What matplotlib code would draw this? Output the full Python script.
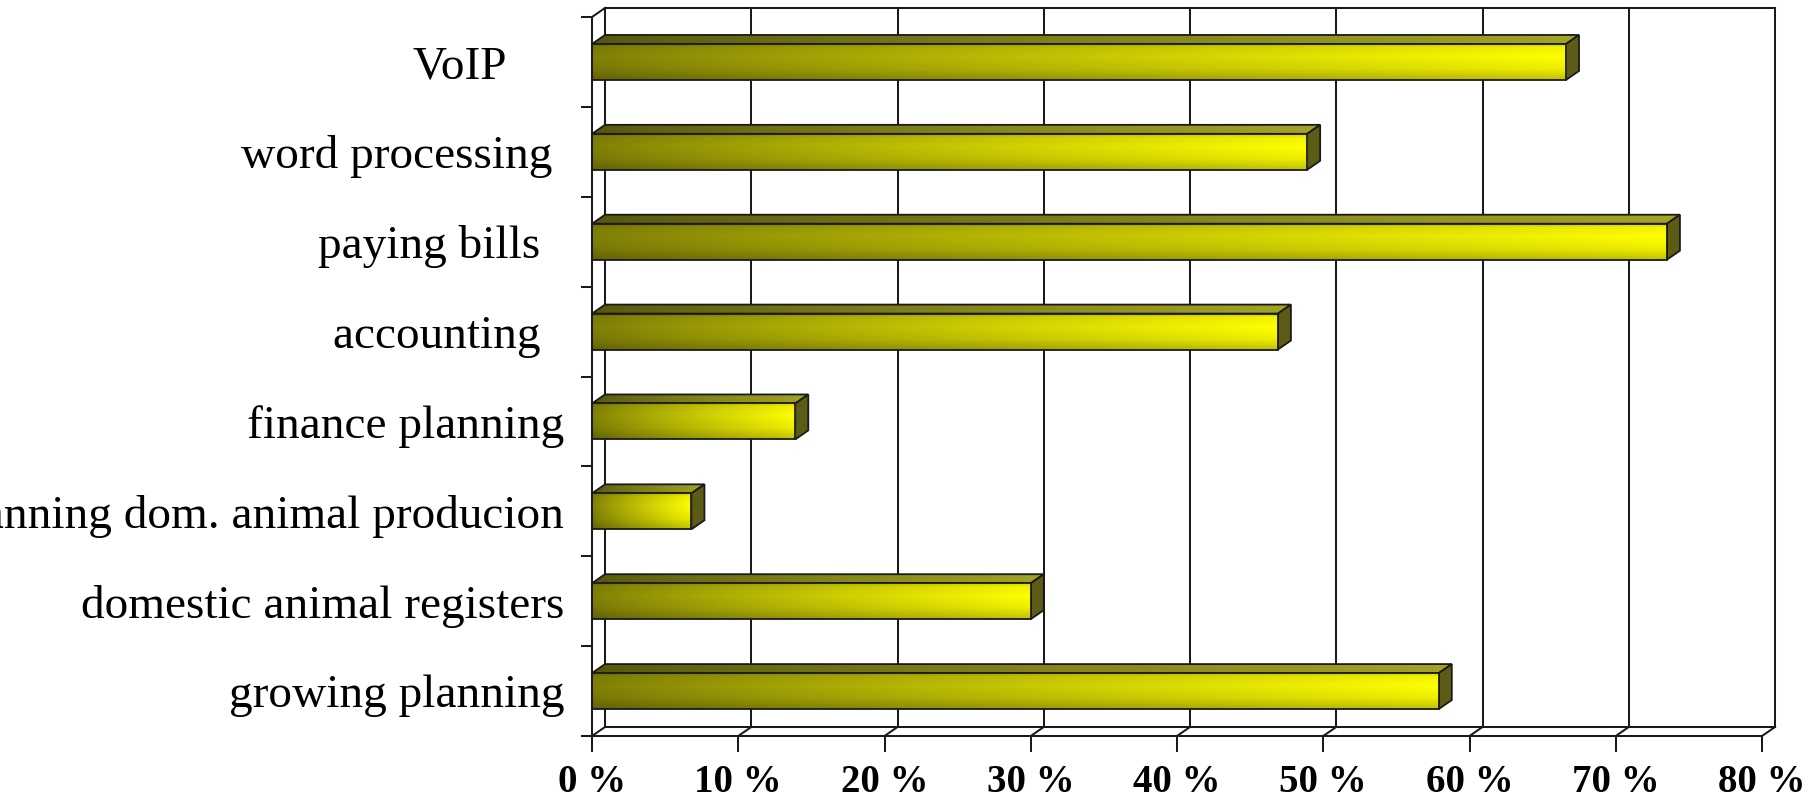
import numpy as np
import matplotlib
matplotlib.use("Agg")
import matplotlib.pyplot as plt
from matplotlib.patches import Polygon

# ---------------- data ----------------
categories = [
    "growing planning",
    "domestic animal registers",
    "planning dom. animal producion",
    "finance planning",
    "accounting  ",
    "paying bills  ",
    "word processing ",
    "VoIP     ",
]
values = [57.9, 30.0, 6.8, 13.9, 46.9, 73.5, 48.9, 66.6]
x_ticks = [0, 10, 20, 30, 40, 50, 60, 70, 80]
x_tick_labels = ["0 %", "10 %", "20 %", "30 %", "40 %", "50 %", "60 %", "70 %", "80 %"]

# ---------------- layout ----------------
W, H = 1811, 808
fig = plt.figure(figsize=(W / 100, H / 100), dpi=100)
fig.patch.set_facecolor("white")
L, R, B, T = 592, 1762, 736, 17  # front plane in pixels
ax = fig.add_axes([L / W, (H - B) / H, (R - L) / W, (B - T) / H])
ax.set_facecolor("none")

XMIN, XMAX = 0, 80
YMIN, YMAX = -0.5, len(categories) - 0.5
DX = 13 / (R - L) * (XMAX - XMIN)   # depth offset (data units)
DY = 9 / (B - T) * (YMAX - YMIN)
LC = "#1a1a1a"
LW = 1.45

# back wall, floor, gridlines
for x in x_ticks:
    ax.plot([x + DX, x + DX], [YMIN + DY, YMAX + DY], color=LC, lw=LW, clip_on=False, zorder=1)
    ax.plot([x, x + DX], [YMIN, YMIN + DY], color=LC, lw=LW, clip_on=False, zorder=1)
ax.plot([XMIN + DX, XMAX + DX], [YMAX + DY, YMAX + DY], color=LC, lw=LW, clip_on=False, zorder=1)
ax.plot([XMIN + DX, XMAX + DX], [YMIN + DY, YMIN + DY], color=LC, lw=LW, clip_on=False, zorder=1)
ax.plot([XMIN, XMIN + DX], [YMAX, YMAX + DY], color=LC, lw=LW, clip_on=False, zorder=1)

# ---------------- bars ----------------
h = 0.2
nx, ny = 300, 40
t = np.linspace(0, 1, nx)
dark = np.array([0.50, 0.50, 0.03])
bright = np.array([1.0, 1.0, 0.0])
base = dark[None, :] + (bright - dark)[None, :] * (t ** 0.85)[:, None]
s = np.linspace(0, 1, ny)  # 0 = top, 1 = bottom
shade = np.interp(s, [0, 0.08, 0.35, 0.7, 1.0], [0.82, 0.95, 1.0, 0.93, 0.76])
front_img = np.clip(shade[:, None, None] * base[None, :, :], 0, 1)

top_dark = np.array([0.34, 0.34, 0.05])
top_bright = np.array([0.64, 0.64, 0.14])
top_base = top_dark[None, :] + (top_bright - top_dark)[None, :] * (t ** 0.8)[:, None]
top_img = np.repeat(top_base[None, :, :], 6, axis=0)

for i, v in enumerate(values):
    # top face
    top_poly = Polygon([(0, i + h), (v, i + h), (v + DX, i + h + DY), (DX, i + h + DY)],
                       closed=True, facecolor="none", edgecolor=LC, lw=1.3, zorder=4, clip_on=False)
    ax.add_patch(top_poly)
    im = ax.imshow(top_img, extent=(0, v + DX, i + h, i + h + DY), aspect="auto",
                   origin="upper", zorder=3, interpolation="bilinear")
    im.set_clip_path(top_poly)
    # side face
    side = Polygon([(v, i - h), (v + DX, i - h + DY), (v + DX, i + h + DY), (v, i + h)],
                   closed=True, facecolor="#5c5c16", edgecolor=LC, lw=1.3, zorder=4, clip_on=False)
    ax.add_patch(side)
    # front face
    ax.imshow(front_img, extent=(0, v, i - h, i + h), aspect="auto", origin="upper",
              zorder=5, interpolation="bilinear")
    ax.add_patch(Polygon([(0, i - h), (v, i - h), (v, i + h), (0, i + h)], closed=True,
                         facecolor="none", edgecolor=LC, lw=1.3, zorder=6))

ax.set_xlim(XMIN, XMAX)
ax.set_ylim(YMIN, YMAX)

# ---------------- axes / ticks ----------------
for sp in ["top", "right"]:
    ax.spines[sp].set_visible(False)
for sp in ["left", "bottom"]:
    ax.spines[sp].set_color(LC)
    ax.spines[sp].set_linewidth(LW)
    ax.spines[sp].set_zorder(7)

ax.set_xticks(x_ticks)
ax.set_xticklabels(x_tick_labels, fontfamily="Liberation Serif", fontweight="bold", fontsize=28)
ax.tick_params(axis="x", length=11.5, width=LW, color=LC, pad=8.5)

ax.set_yticks(range(len(categories)))
ax.set_yticklabels(categories, fontfamily="Liberation Serif", fontsize=34)
ax.set_yticks(np.arange(YMIN, YMAX + 0.01, 1.0), minor=True)
ax.tick_params(axis="y", which="major", length=0, pad=20)
ax.tick_params(axis="y", which="minor", length=8, width=LW, color=LC)

fig.savefig("out.png", dpi=100, facecolor="white")
